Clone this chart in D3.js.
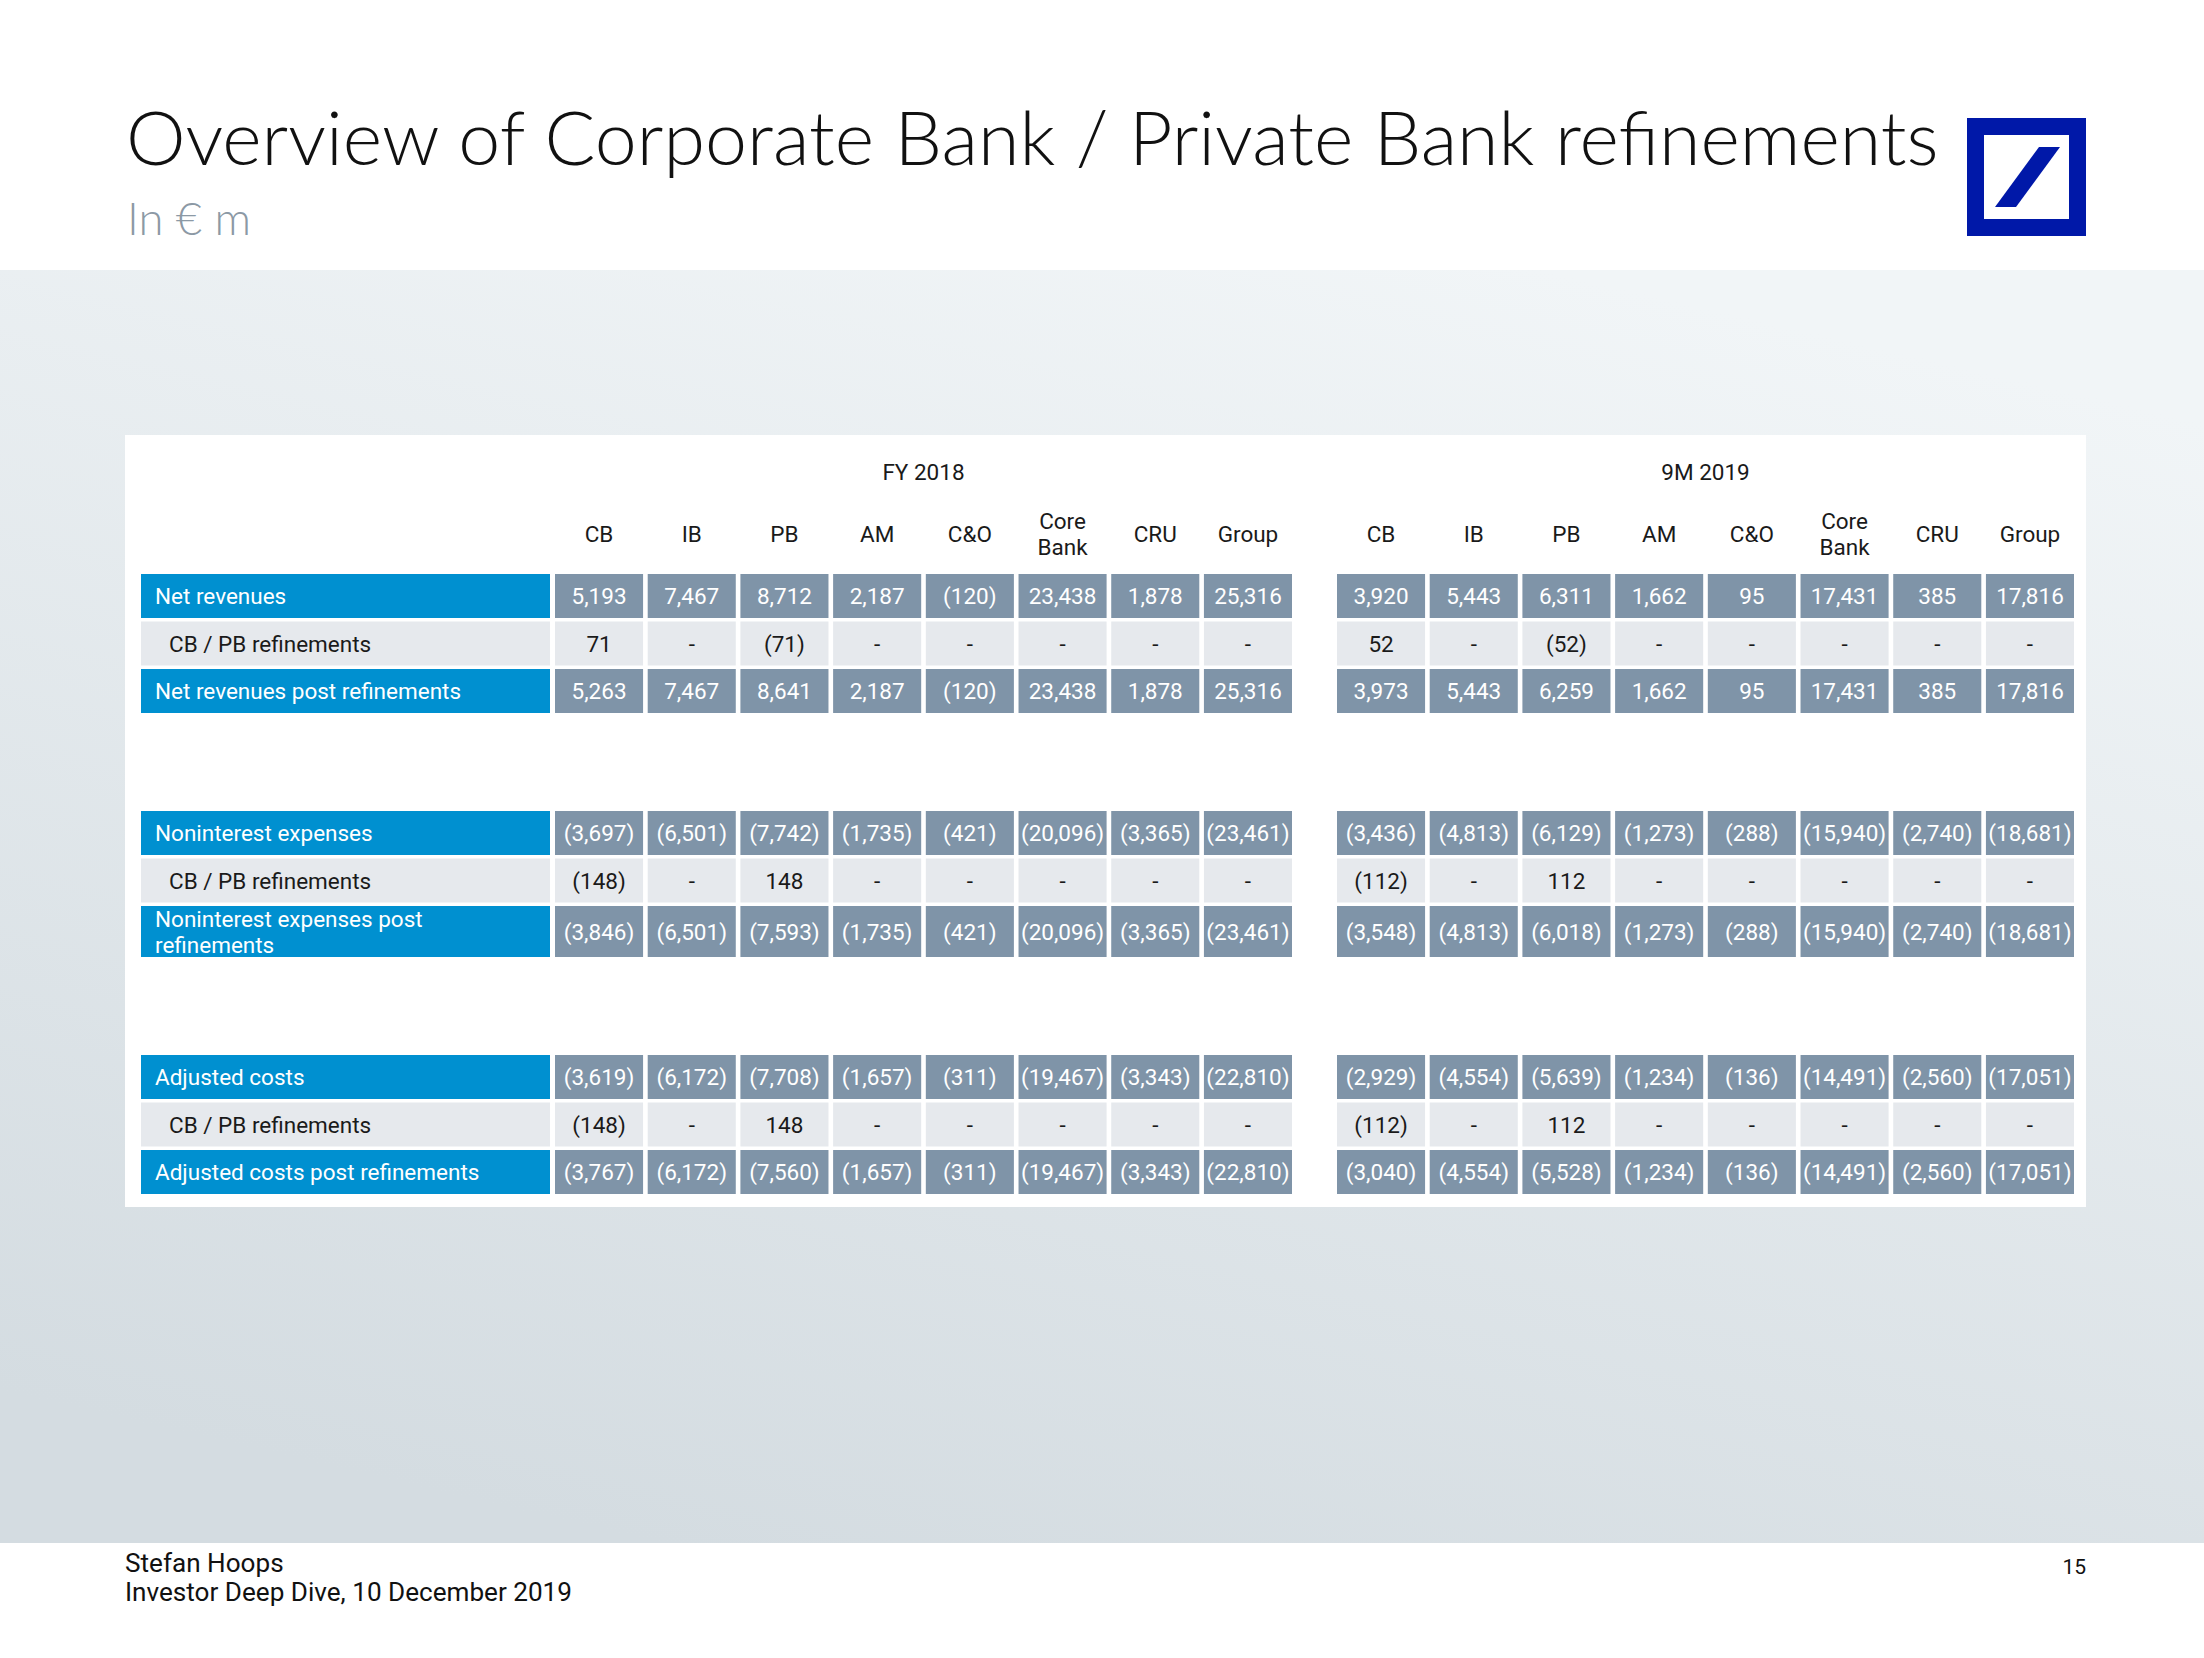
<!DOCTYPE html>
<html><head><meta charset="utf-8">
<script src="https://cdn.jsdelivr.net/npm/d3@7"></script>
<style>html,body{margin:0;padding:0;background:#fff;} svg{display:block}</style>
</head><body><svg id="c" width="2204" height="1658"></svg>
<script>
// ---------- DATA ----------
const periods = ["FY 2018", "9M 2019"];
const segments = ["CB", "IB", "PB", "AM", "C&O", "Core Bank", "CRU", "Group"];
const rowLabels = [
  "Net revenues", "CB / PB refinements", "Net revenues post refinements",
  "Noninterest expenses", "CB / PB refinements", "Noninterest expenses post refinements",
  "Adjusted costs", "CB / PB refinements", "Adjusted costs post refinements"
];
const rowKinds = ["main", "ref", "main", "main", "ref", "main", "main", "ref", "main"];

const fy18NetRevenues     = [5193, 7467, 8712, 2187, -120, 23438, 1878, 25316];
const fy18NetRevRef       = [71, 0, -71, 0, 0, 0, 0, 0];
const fy18NetRevPost      = [5263, 7467, 8641, 2187, -120, 23438, 1878, 25316];
const fy18Nie             = [-3697, -6501, -7742, -1735, -421, -20096, -3365, -23461];
const fy18NieRef          = [-148, 0, 148, 0, 0, 0, 0, 0];
const fy18NiePost         = [-3846, -6501, -7593, -1735, -421, -20096, -3365, -23461];
const fy18AdjCosts        = [-3619, -6172, -7708, -1657, -311, -19467, -3343, -22810];
const fy18AdjRef          = [-148, 0, 148, 0, 0, 0, 0, 0];
const fy18AdjPost         = [-3767, -6172, -7560, -1657, -311, -19467, -3343, -22810];

const m919NetRevenues     = [3920, 5443, 6311, 1662, 95, 17431, 385, 17816];
const m919NetRevRef       = [52, 0, -52, 0, 0, 0, 0, 0];
const m919NetRevPost      = [3973, 5443, 6259, 1662, 95, 17431, 385, 17816];
const m919Nie             = [-3436, -4813, -6129, -1273, -288, -15940, -2740, -18681];
const m919NieRef          = [-112, 0, 112, 0, 0, 0, 0, 0];
const m919NiePost         = [-3548, -4813, -6018, -1273, -288, -15940, -2740, -18681];
const m919AdjCosts        = [-2929, -4554, -5639, -1234, -136, -14491, -2560, -17051];
const m919AdjRef          = [-112, 0, 112, 0, 0, 0, 0, 0];
const m919AdjPost         = [-3040, -4554, -5528, -1234, -136, -14491, -2560, -17051];

const fy18Rows = [fy18NetRevenues, fy18NetRevRef, fy18NetRevPost, fy18Nie, fy18NieRef, fy18NiePost, fy18AdjCosts, fy18AdjRef, fy18AdjPost];
const m919Rows = [m919NetRevenues, m919NetRevRef, m919NetRevPost, m919Nie, m919NieRef, m919NiePost, m919AdjCosts, m919AdjRef, m919AdjPost];

// ---------- STYLE / LAYOUT ----------
const W = 2204, H = 1658;
const C_BLUE = "#0090d0", C_GRAY = "#7f94a8", C_LIGHT = "#e6e9ed", C_TEXT = "#1a1a1a";
const FONT = "Roboto, 'Liberation Sans', sans-serif";
const svg = d3.select("#c");

const defs = svg.append("defs");
const grad = defs.append("linearGradient").attr("id", "bg").attr("x1", "70%").attr("y1", "0%").attr("x2", "30%").attr("y2", "100%");
grad.append("stop").attr("offset", "0%").attr("stop-color", "#f1f5f7");
grad.append("stop").attr("offset", "100%").attr("stop-color", "#d4dce1");

svg.append("rect").attr("width", W).attr("height", H).attr("fill", "#fff");
svg.append("rect").attr("x", 0).attr("y", 270).attr("width", W).attr("height", 1273).attr("fill", "url(#bg)");
svg.append("rect").attr("x", 125).attr("y", 435).attr("width", 1961).attr("height", 772).attr("fill", "#fff");

function fitWidth(sel, target) {
  const node = sel.node();
  const fs = parseFloat(sel.attr("font-size"));
  const w = node.getComputedTextLength();
  if (w > 0) sel.attr("font-size", fs * target / w);
}

// Title
const title = svg.append("text").attr("x", 126).attr("y", 165)
  .attr("font-family", "Lato, 'Open Sans', sans-serif").attr("font-weight", 300)
  .attr("font-size", 74).attr("fill", "#111")
  .text("Overview of Corporate Bank / Private Bank refinements");
fitWidth(title, 1813);
const sub = svg.append("text").attr("x", 127).attr("y", 235)
  .attr("font-family", "Lato, 'Open Sans', sans-serif").attr("font-weight", 300)
  .attr("font-size", 45).attr("fill", "#8c99a5").text("In € m");
fitWidth(sub, 124);

// Logo
const logo = svg.append("g");
logo.append("rect").attr("x", 1967).attr("y", 118).attr("width", 119).attr("height", 118).attr("fill", "#0018a8");
logo.append("rect").attr("x", 1984).attr("y", 135).attr("width", 85).attr("height", 84).attr("fill", "#fff");
logo.append("polygon").attr("points", "1995,207 2016,207 2060,147 2039,147").attr("fill", "#0018a8");

// Scales
const periodStart = d3.scaleOrdinal().domain(periods).range([555, 1337]);
const colX = {};
periods.forEach(p => {
  const s = periodStart(p);
  colX[p] = d3.scaleBand().domain(segments).range([s, s + 737]).paddingInner(0.05).paddingOuter(0);
});
const blockTop = [574, 811, 1055];
const rowOffset = [0, 47.5, 95];
function rowGeom(i) {
  const b = Math.floor(i / 3), r = i % 3;
  const y = blockTop[b] + rowOffset[r];
  const h = (b === 1 && r === 2) ? 51 : 44;
  return {y, h};
}
const fmt = d3.format(",");
const fmtVal = v => v === 0 ? "-" : (v < 0 ? "(" + fmt(-v) + ")" : fmt(v));

// Period headers and column headers
periods.forEach(p => {
  const x = colX[p];
  svg.append("text").attr("x", x.range()[0] + (x.range()[1] - x.range()[0]) / 2).attr("y", 472)
    .attr("text-anchor", "middle").attr("dominant-baseline", "central")
    .attr("font-family", FONT).attr("font-size", 22.5).attr("fill", C_TEXT).text(p);
  segments.forEach(s => {
    const cx = x(s) + x.bandwidth() / 2;
    const parts = s.split(" ");
    const t = svg.append("text").attr("text-anchor", "middle")
      .attr("font-family", FONT).attr("font-size", 22.5).attr("fill", C_TEXT);
    if (parts.length === 1) {
      t.append("tspan").attr("x", cx).attr("y", 534).attr("dominant-baseline", "central").text(s);
    } else {
      t.append("tspan").attr("x", cx).attr("y", 521).attr("dominant-baseline", "central").text(parts[0]);
      t.append("tspan").attr("x", cx).attr("y", 547).attr("dominant-baseline", "central").text(parts[1]);
    }
  });
});

// Rows
rowLabels.forEach((label, i) => {
  const {y, h} = rowGeom(i);
  const kind = rowKinds[i];
  svg.append("rect").attr("x", 141).attr("y", y).attr("width", 409).attr("height", h)
    .attr("fill", kind === "main" ? C_BLUE : C_LIGHT);
  const tx = kind === "main" ? 155 : 169;
  const t = svg.append("text").attr("font-family", FONT).attr("font-size", 22.5)
    .attr("fill", kind === "main" ? "#fff" : C_TEXT);
  if (label === "Noninterest expenses post refinements") {
    t.append("tspan").attr("x", tx).attr("y", y + h / 2 - 13).attr("dominant-baseline", "central").text("Noninterest expenses post");
    t.append("tspan").attr("x", tx).attr("y", y + h / 2 + 13.5).attr("dominant-baseline", "central").text("refinements");
  } else {
    t.append("tspan").attr("x", tx).attr("y", y + h / 2).attr("dominant-baseline", "central").text(label);
  }
  [fy18Rows[i], m919Rows[i]].forEach((vals, pi) => {
    const x = colX[periods[pi]];
    const g = svg.append("g");
    g.selectAll("rect").data(vals).join("rect")
      .attr("x", (d, j) => x(segments[j])).attr("y", y)
      .attr("width", x.bandwidth()).attr("height", h)
      .attr("fill", kind === "main" ? C_GRAY : C_LIGHT);
    g.selectAll("text").data(vals).join("text")
      .attr("x", (d, j) => x(segments[j]) + x.bandwidth() / 2).attr("y", y + h / 2)
      .attr("text-anchor", "middle").attr("dominant-baseline", "central")
      .attr("font-family", FONT).attr("font-size", 22.5)
      .attr("fill", kind === "main" ? "#fff" : C_TEXT)
      .text(d => fmtVal(d));
  });
});

// Footer
const f1 = svg.append("text").attr("x", 125).attr("y", 1572).attr("font-family", FONT)
  .attr("font-size", 24).attr("fill", "#111").text("Stefan Hoops");
const f2 = svg.append("text").attr("x", 125).attr("y", 1601).attr("font-family", FONT)
  .attr("font-size", 24).attr("fill", "#111").text("Investor Deep Dive, 10 December 2019");
fitWidth(f2, 447);
f1.attr("font-size", f2.attr("font-size"));
svg.append("text").attr("x", 2086).attr("y", 1574).attr("text-anchor", "end").attr("font-family", FONT)
  .attr("font-size", 21).attr("fill", "#111").text("15");
</script>
</body></html>
